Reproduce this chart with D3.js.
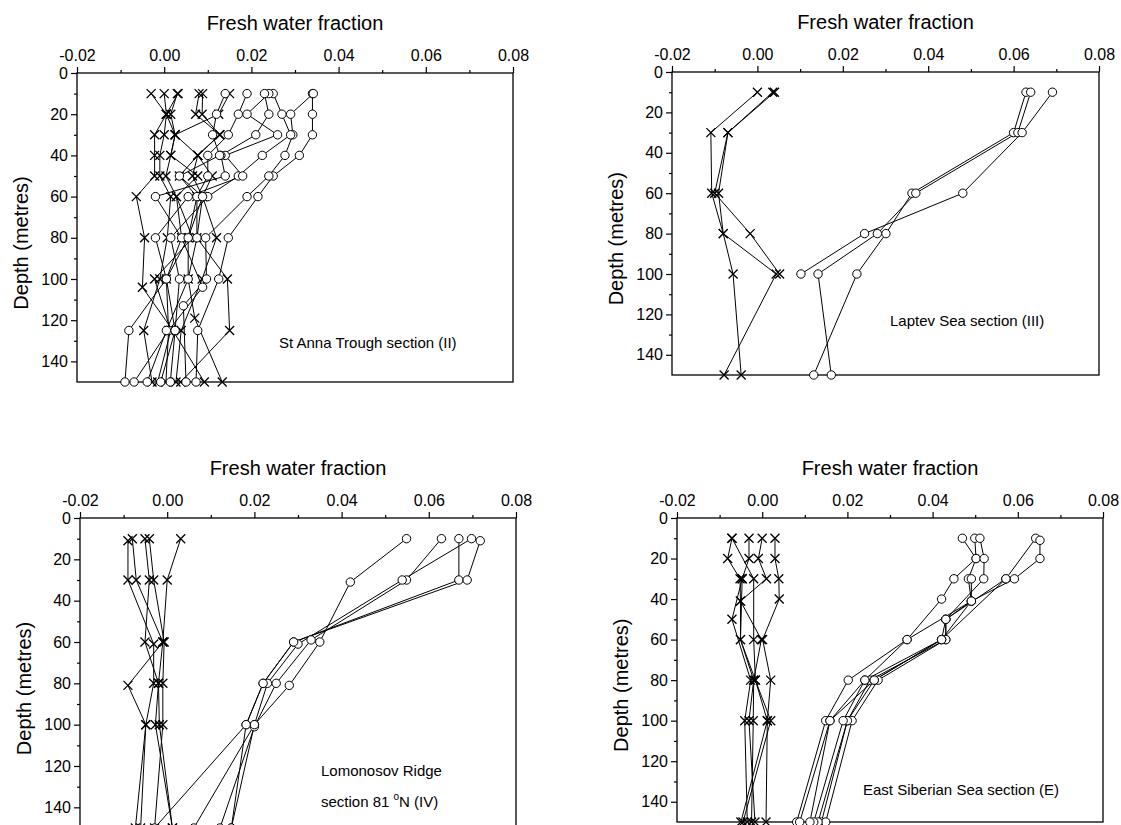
<!DOCTYPE html>
<meta charset="utf-8">
<script src="https://d3js.org/d3.v7.min.js"></script>
<style>
  body { margin: 0; background: #fff; }
  text { font-family: "Liberation Sans", Arial, sans-serif; fill: #000; }
</style>
<div id="chart"></div>
<script>

// axis ticks
var xMajor = [-0.02, 0.00, 0.02, 0.04, 0.06, 0.08];
var xMinor = [-0.01, 0.01, 0.03, 0.05, 0.07];
var yMajor = [0, 20, 40, 60, 80, 100, 120, 140];
var yMinor = [10, 30, 50, 70, 90, 110, 130];

// each profile: [depth (m), fresh water fraction]
// St Anna Trough section (II)
var annaCross = [
  [[10,-0.003],[20,0.0005],[30,-0.0022],[40,-0.0022],[50,-0.0022],[60,-0.0064],[80,-0.0045],[104,-0.005],[125,0.002],[150,0.0092]],
  [[10,0.000],[20,0.0005],[30,0.000],[40,-0.001],[50,-0.001],[60,0.0015],[80,0.0007],[100,-0.001],[125,-0.0047],[150,-0.0028]],
  [[10,0.003],[20,0.0015],[30,0.0025],[40,0.0015],[50,0.0004],[60,0.0028],[80,0.004],[100,0.0005],[125,0.001],[150,0.0004]],
  [[10,0.0032],[20,0.0005],[30,0.0025],[40,0.0077],[50,0.0035],[60,0.0075],[80,0.0055],[100,0.0055],[119,0.007],[150,0.0133]],
  [[10,0.008],[20,0.0072],[30,0.0128],[40,0.0077],[50,0.0065],[60,0.0088],[80,0.012],[100,0.0087],[125,0.0039],[150,0.0027]],
  [[10,0.0088],[20,0.0087],[30,0.0127],[40,0.0077],[50,0.011],[60,0.0088],[80,0.0075],[100,0.0145],[125,0.015],[150,0.0038]],
  [[10,0.015],[20,0.0125],[30,0.0025],[40,0.0015],[50,0.0077],[60,0.0028],[80,0.0065],[100,-0.0022],[125,0.0015],[150,-0.0015]]
];
var annaCircle = [
  [[10,0.034],[20,0.034],[30,0.034],[40,0.031],[50,0.025],[60,0.0215],[80,0.0147],[100,0.0125],[125,0.0077],[150,0.0073]],
  [[10,0.0342],[20,0.029],[30,0.0295],[40,0.0277],[50,0.024],[60,0.019],[80,0.0095],[100,0.0097],[113,0.0044],[150,0.005]],
  [[10,0.025],[20,0.027],[30,0.029],[40,0.0225],[50,0.017],[60,0.010],[80,0.0015],[100,0.0035],[125,0.0025],[150,0.0014]],
  [[10,0.024],[20,0.019],[30,0.026],[40,0.014],[50,0.018],[60,0.0055],[80,-0.002],[100,0.0005],[125,-0.0081],[150,-0.009]],
  [[10,0.023],[20,0.024],[30,0.021],[40,0.013],[50,0.014],[60,-0.002],[80,0.004],[104,0.0088],[125,0.001],[150,-0.0069]],
  [[10,0.019],[20,0.017],[30,0.0147],[40,0.010],[50,0.010],[60,0.0075],[80,0.0075],[100,0.0055],[125,0.0005],[150,-0.0039]],
  [[10,0.014],[20,0.012],[30,0.0111],[40,0.0127],[50,0.0035],[60,0.0088],[80,0.0055],[100,0.0005],[125,0.0025],[150,-0.0008]]
];

// Laptev Sea section (III)
var laptevCross = [
  [[10,0.000],[30,-0.0109],[60,-0.0107],[80,-0.008],[100,0.0044],[150,-0.0078]],
  [[10,0.0036],[30,-0.0069],[60,-0.0100],[80,-0.0017],[100,0.0052]],
  [[10,0.004],[30,-0.0069],[60,-0.0091],[80,-0.008],[100,-0.0057],[150,-0.0038]]
];
var laptevCircle = [
  [[10,0.0629],[30,0.060],[60,0.0362],[80,0.0301],[100,0.0233],[150,0.0132]],
  [[10,0.064],[30,0.061],[60,0.0371],[80,0.0281],[100,0.0142],[150,0.0173]],
  [[10,0.0691],[30,0.062],[60,0.0481],[80,0.0251],[100,0.0102]]
];

// Lomonosov Ridge section 81 N (IV)
var lomoCross = [
  [[11,-0.009],[30,-0.009],[61,-0.0031],[80,-0.0031],[100,-0.0049],[150,-0.0061]],
  [[10,-0.008],[30,-0.0071],[60,-0.001],[81,-0.009],[100,-0.0049],[150,-0.0073]],
  [[10,-0.0051],[30,-0.0041],[60,-0.0051],[80,-0.002],[100,-0.0018],[150,0.0012]],
  [[10,-0.0041],[30,-0.0031],[60,-0.0007],[80,-0.001],[100,-0.001],[150,-0.0029]],
  [[10,0.0031],[30,0.000],[60,-0.001],[80,-0.002],[100,-0.0027],[150,0.0012]]
];
var lomoCircle = [
  [[10,0.0549],[31,0.042],[60,0.035],[81,0.028],[100,0.020],[150,0.0147]],
  [[10,0.0629],[30,0.0549],[59,0.033],[80,0.025],[101,0.020],[150,0.0121]],
  [[10,0.0669],[30,0.0669],[60,0.029],[80,0.022],[100,0.0181],[150,-0.0029]],
  [[10,0.0698],[30,0.0539],[61,0.030],[80,0.023],[100,0.020],[150,0.0061]],
  [[11,0.0718],[30,0.0688],[60,0.029],[80,0.022],[100,0.0181],[150,0.0147]]
];

// East Siberian Sea section (E)
var esibCross = [
  [[10,-0.0071],[20,-0.0081],[30,-0.0052],[41,-0.0051],[60,-0.0051],[80,-0.002],[100,-0.0031],[150,-0.0017]],
  [[10,-0.0071],[30,-0.002],[60,-0.002],[80,-0.0016],[100,0.002],[150,-0.0045]],
  [[10,-0.0031],[20,-0.0031],[30,-0.0047],[50,-0.0071],[80,-0.0027],[100,-0.0041],[150,-0.0035]],
  [[10,0.000],[20,-0.0009],[30,0.001],[41,-0.0051],[60,-0.0002],[80,-0.002],[100,-0.0021],[150,-0.0025]],
  [[10,0.003],[20,0.003],[30,0.0039],[40,0.004],[60,0.0001],[80,0.002],[100,0.0012],[150,0.0009]],
  [[30,-0.0047],[60,-0.0051],[80,-0.0016],[100,0.0012],[150,-0.005]]
];
var esibCircle = [
  [[10,0.047],[20,0.0502],[30,0.045],[40,0.0421],[60,0.034],[80,0.0202],[100,0.0149],[150,0.0081]],
  [[10,0.0499],[20,0.0502],[30,0.0484],[41,0.0491],[50,0.0431],[60,0.0431],[80,0.0253],[100,0.020],[150,0.0139]],
  [[10,0.0511],[20,0.0521],[30,0.052],[50,0.0431],[60,0.0431],[80,0.0272],[100,0.0211],[150,0.0149]],
  [[10,0.0642],[30,0.0572],[60,0.0421],[80,0.0263],[100,0.020],[150,0.0131]],
  [[11,0.0652],[20,0.0652],[30,0.0592],[41,0.0491],[60,0.0421],[80,0.0241],[100,0.019],[150,0.0121]],
  [[30,0.0491],[41,0.0491],[60,0.034],[80,0.0241],[100,0.0159],[150,0.0112]],
  [[30,0.0572],[50,0.0431],[60,0.0421],[80,0.0263],[100,0.0159],[150,0.0088]]
];

var W = 1121, H = 825;
var svg = d3.select("#chart").append("svg")
    .attr("width", W)
    .attr("height", H);

var panels = [
  { x0: 77,  x1: 513,  y0: 73,  y1: 382, cross: annaCross,   circle: annaCircle,
    label: ["St Anna Trough section (II)"], lx: 279, ly: [348] },
  { x0: 672, x1: 1099, y0: 72,  y1: 375, cross: laptevCross, circle: laptevCircle,
    label: ["Laptev Sea section (III)"], lx: 890, ly: [326] },
  { x0: 80,  x1: 516,  y0: 518, y1: 828, cross: lomoCross,   circle: lomoCircle,
    label: ["Lomonosov Ridge", "section 81 |N (IV)"], lx: 321, ly: [776, 807] },
  { x0: 677, x1: 1103, y0: 518, y1: 822, cross: esibCross,   circle: esibCircle,
    label: ["East Siberian Sea section (E)"], lx: 863, ly: [795] }
];

panels.forEach(function(p) {
  var x = d3.scaleLinear().domain([-0.02, 0.08]).range([p.x0, p.x1]);
  var y = d3.scaleLinear().domain([0, 150]).range([p.y0, p.y1]);
  var g = svg.append("g");

  // frame
  g.append("rect")
    .attr("x", p.x0).attr("y", p.y0)
    .attr("width", p.x1 - p.x0).attr("height", p.y1 - p.y0)
    .attr("fill", "none").attr("stroke", "#000").attr("stroke-width", 1.3);

  // top axis
  g.append("g").attr("transform", "translate(0," + p.y0 + ")")
    .call(d3.axisTop(x).tickValues(xMajor).tickSize(6).tickPadding(6)
      .tickFormat(function(d) { return d.toFixed(2); }));
  g.append("g").attr("transform", "translate(0," + p.y0 + ")")
    .call(d3.axisTop(x).tickValues(xMinor).tickSize(3).tickFormat(""));

  // left axis
  g.append("g").attr("transform", "translate(" + p.x0 + ",0)")
    .call(d3.axisLeft(y).tickValues(yMajor).tickSize(6).tickPadding(3));
  g.append("g").attr("transform", "translate(" + p.x0 + ",0)")
    .call(d3.axisLeft(y).tickValues(yMinor).tickSize(3).tickFormat(""));

  g.selectAll(".domain").remove();
  g.selectAll(".tick line").attr("stroke", "#000").attr("stroke-width", 1.2);
  g.selectAll(".tick text").style("font-size", "16px").attr("fill", "#000");

  // titles
  g.append("text")
    .attr("x", (p.x0 + p.x1) / 2).attr("y", p.y0 - 43)
    .attr("text-anchor", "middle")
    .style("font-size", "20px")
    .text("Fresh water fraction");
  g.append("text")
    .attr("transform", "translate(" + (p.x0 - 49) + "," + (p.y0 + 0.55 * (p.y1 - p.y0)) + ") rotate(-90)")
    .attr("text-anchor", "middle")
    .style("font-size", "20px")
    .text("Depth (metres)");

  // section label
  p.label.forEach(function(s, i) {
    var t = g.append("text")
      .attr("x", p.lx).attr("y", p.ly[i])
      .style("font-size", "15px");
    var parts = s.split("|");
    t.append("tspan").text(parts[0]);
    if (parts.length > 1) {
      t.append("tspan").attr("dy", -7).style("font-size", "10px").text("o");
      t.append("tspan").attr("dy", 7).text(parts[1]);
    }
  });

  var line = d3.line()
    .x(function(d) { return x(d[1]); })
    .y(function(d) { return y(d[0]); });

  var all = p.cross.concat(p.circle);
  g.selectAll(".prof")
    .data(all)
    .enter()
    .append("path")
      .attr("d", line)
      .attr("fill", "none")
      .attr("stroke", "#000")
      .attr("stroke-width", 1);

  // cross markers
  p.cross.forEach(function(prof) {
    g.selectAll(null)
      .data(prof)
      .enter()
      .append("path")
        .attr("transform", function(d) { return "translate(" + x(d[1]) + "," + y(d[0]) + ")"; })
        .attr("d", "M-4.5,-4.5L4.5,4.5M-4.5,4.5L4.5,-4.5")
        .attr("stroke", "#000")
        .attr("stroke-width", 1.3);
  });

  // circle markers
  p.circle.forEach(function(prof) {
    g.selectAll(null)
      .data(prof)
      .enter()
      .append("circle")
        .attr("cx", function(d) { return x(d[1]); })
        .attr("cy", function(d) { return y(d[0]); })
        .attr("r", 4.2)
        .attr("fill", "#fff")
        .attr("stroke", "#000")
        .attr("stroke-width", 1);
  });
});

</script>
